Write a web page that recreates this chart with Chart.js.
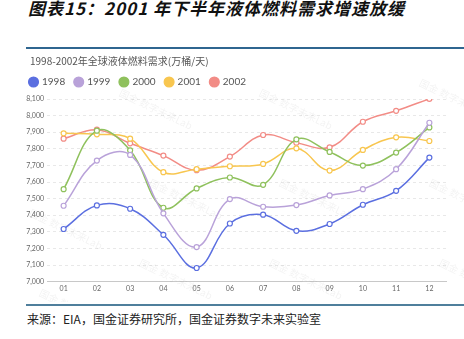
<!DOCTYPE html>
<html>
<head>
<meta charset="utf-8">
<script src="https://cdn.jsdelivr.net/npm/chart.js@4"></script>
<style>
  html, body { margin: 0; padding: 0; width: 464px; height: 339px; overflow: hidden; background: #fff; }
  body { position: relative; font-family: "Noto Sans CJK SC", sans-serif; line-height: 1.2; }
  .title { position: absolute; left: 28px; top: -2px; font-size: 17px; font-weight: bold; font-style: italic; color: #111; letter-spacing: 1px; }
  .rule { position: absolute; left: 26px; right: 0; height: 2px; background: #2f6690; }
  .sub { position: absolute; left: 30px; top: 55px; font-size: 10px; color: #555; }
  .src { position: absolute; left: 27px; top: 312px; font-size: 12px; color: #222; }
  .box { position: absolute; left: 0; top: 52px; width: 464px; height: 250px; }
</style>
</head>
<body>
<div class="title">图表15：2001 年下半年液体燃料需求增速放缓</div>
<div class="rule" style="top:47px"></div>
<div class="box"><canvas id="demand"></canvas></div>
<div class="sub">1998-2002年全球液体燃料需求(万桶/天)</div>
<div class="rule" style="top:304px; background:#4f7f9c"></div>
<div class="src">来源：EIA，国金证券研究所，国金证券数字未来实验室</div>
<script>
const months = ['01', '02', '03', '04', '05', '06', '07', '08', '09', '10', '11', '12'];
const d1998 = [7317, 7459, 7439, 7282, 7082, 7350, 7403, 7306, 7347, 7463, 7547, 7747];
const d1999 = [7457, 7729, 7763, 7411, 7208, 7497, 7451, 7461, 7519, 7557, 7677, 7957];
const d2000 = [7557, 7909, 7791, 7445, 7561, 7627, 7583, 7857, 7781, 7699, 7777, 7929];
const d2001 = [7893, 7887, 7861, 7659, 7677, 7695, 7709, 7803, 7669, 7793, 7869, 7847];
const d2002 = [7861, 7915, 7833, 7759, 7671, 7753, 7883, 7837, 7809, 7963, 8029, 8101];

function series(label, data, color) {
  return {
    label: label,
    data: data,
    borderColor: color,
    backgroundColor: color,
    pointBackgroundColor: '#fff',
    pointBorderColor: color,
    pointBorderWidth: 1.2,
    pointRadius: 2.5,
    borderWidth: 1.5,
    tension: 0.4
  };
}

// faint diagonal watermark behind the lines
const watermark = {
  id: 'watermark',
  beforeDatasetsDraw(chart) {
    const c = chart.ctx;
    c.save();
    c.font = '10px "Noto Sans CJK SC"';
    c.fillStyle = 'rgba(0,0,0,0.05)';
    const spots = [[120, 40], [150, 130], [140, 210], [260, 40], [280, 130], [270, 210], [420, 30], [430, 130], [440, 210], [30, 160], [40, 240]];
    spots.forEach(([x, y]) => {
      c.save();
      c.translate(x, y);
      c.rotate(Math.PI / 7);
      c.fillText('国金 数字未来Lab', 0, 0);
      c.restore();
    });
    c.restore();
  }
};

// leave a little more room under the legend row
const legendGap = {
  id: 'legendGap',
  beforeInit(chart) {
    const fit = chart.legend.fit;
    chart.legend.fit = function () {
      fit.call(this);
      this.height += 2;
    };
  }
};

new Chart(document.getElementById('demand'), {
  type: 'line',
  data: {
    labels: months,
    datasets: [
      series('1998', d1998, '#5b6fe0'),
      series('1999', d1999, '#b9a2d9'),
      series('2000', d2000, '#8fc15d'),
      series('2001', d2001, '#f8c64f'),
      series('2002', d2002, '#f28c86')
    ]
  },
  options: {
    responsive: true,
    maintainAspectRatio: false,
    animation: false,
    layout: { padding: { left: 20, right: 18, top: 15, bottom: 6 } },
    plugins: {
      legend: {
        align: 'start',
        labels: {
          usePointStyle: true,
          pointStyle: 'circle',
          boxWidth: 7,
          boxHeight: 7,
          padding: 10,
          color: '#555',
          font: { size: 10, family: 'Lato' },
          generateLabels(chart) {
            const items = Chart.defaults.plugins.legend.labels.generateLabels(chart);
            items.forEach(it => { it.fillStyle = it.strokeStyle; });
            return items;
          }
        }
      },
      tooltip: { enabled: false }
    },
    scales: {
      x: {
        offset: true,
        grid: { display: false, drawTicks: false },
        border: { color: '#c8c8c8' },
        ticks: { color: '#666', font: { size: 7, family: 'Lato' }, padding: 3 }
      },
      y: {
        min: 7000,
        max: 8100,
        afterFit(scale) { scale.width = 27; },
        ticks: { stepSize: 100, color: '#666', font: { size: 7, family: 'Lato' }, padding: 3 },
        grid: { color: '#e8e8e8', drawTicks: false },
        border: { display: false, dash: [3, 3] }
      }
    }
  },
  plugins: [watermark, legendGap]
});
</script>
</body>
</html>
